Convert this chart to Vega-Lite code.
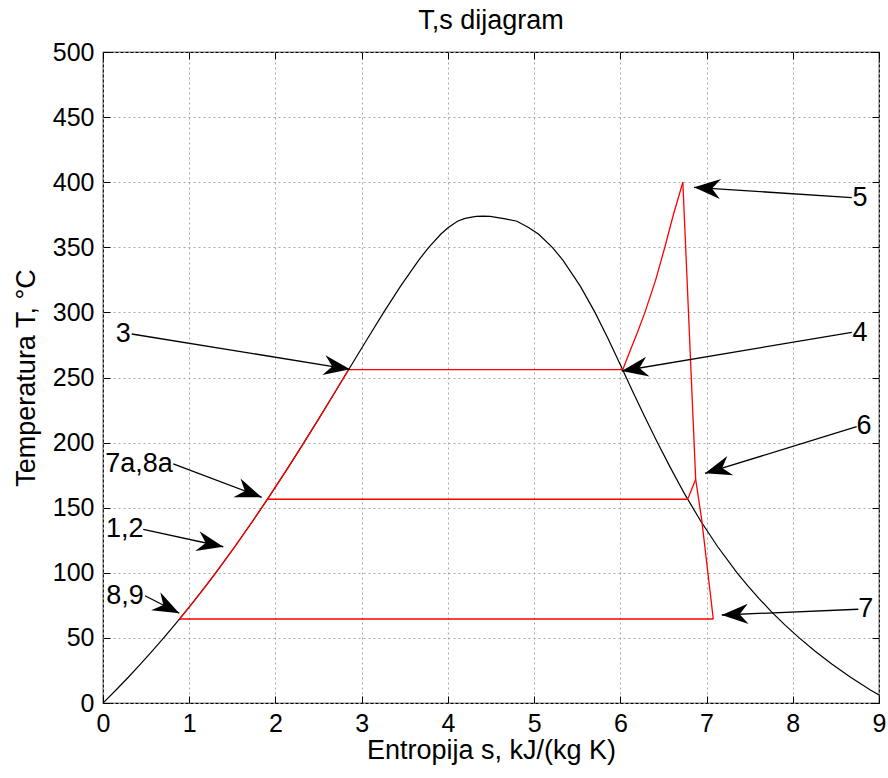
{
  "$schema": "https://vega.github.io/schema/vega-lite/v6.json",
  "width": 776,
  "height": 651,
  "autosize": {"type": "none"},
  "padding": {"left": 103, "top": 52, "right": 9, "bottom": 75},
  "background": "white",
  "config": {
    "font": "Liberation Sans",
    "view": {"stroke": "#000000", "strokeWidth": 1.2},
    "axis": {
      "domain": false,
      "labelColor": "#000000",
      "labelFont": "Liberation Sans",
      "labelFontSize": 25,
      "labelFlush": false,
      "labelOverlap": false,
      "titleFont": "Liberation Sans",
      "titleFontSize": 27,
      "titleFontWeight": "normal",
      "titleColor": "#000000",
      "tickColor": "#000000",
      "tickSize": -7,
      "tickWidth": 1,
      "gridColor": "#a8a8a8",
      "gridDash": [2, 3],
      "gridWidth": 1
    }
  },
  "title": {"text": "T,s dijagram", "fontSize": 27, "fontWeight": "normal", "font": "Liberation Sans", "color": "#000000", "offset": 5},
  "datasets": {
    "dome": [
      {"i": 0, "s": 0.0, "T": 0.0},
      {"i": 1, "s": 0.1511, "T": 10},
      {"i": 2, "s": 0.2965, "T": 20},
      {"i": 3, "s": 0.4368, "T": 30},
      {"i": 4, "s": 0.5724, "T": 40},
      {"i": 5, "s": 0.7038, "T": 50},
      {"i": 6, "s": 0.8313, "T": 60},
      {"i": 7, "s": 0.9551, "T": 70},
      {"i": 8, "s": 1.0756, "T": 80},
      {"i": 9, "s": 1.1929, "T": 90},
      {"i": 10, "s": 1.3072, "T": 100},
      {"i": 11, "s": 1.5279, "T": 120},
      {"i": 12, "s": 1.7392, "T": 140},
      {"i": 13, "s": 1.9426, "T": 160},
      {"i": 14, "s": 2.1392, "T": 180},
      {"i": 15, "s": 2.3305, "T": 200},
      {"i": 16, "s": 2.5177, "T": 220},
      {"i": 17, "s": 2.702, "T": 240},
      {"i": 18, "s": 2.8849, "T": 260},
      {"i": 19, "s": 3.0685, "T": 280},
      {"i": 20, "s": 3.2552, "T": 300},
      {"i": 21, "s": 3.4494, "T": 320},
      {"i": 22, "s": 3.6601, "T": 340},
      {"i": 23, "s": 3.7784, "T": 350},
      {"i": 24, "s": 3.9167, "T": 360},
      {"i": 25, "s": 4.0014, "T": 365},
      {"i": 26, "s": 4.1112, "T": 370},
      {"i": 27, "s": 4.19, "T": 372},
      {"i": 28, "s": 4.26, "T": 373},
      {"i": 29, "s": 4.33, "T": 373.7},
      {"i": 30, "s": 4.407, "T": 373.95},
      {"i": 31, "s": 4.49, "T": 373.7},
      {"i": 32, "s": 4.56, "T": 373},
      {"i": 33, "s": 4.65, "T": 372},
      {"i": 34, "s": 4.8012, "T": 370},
      {"i": 35, "s": 4.94, "T": 365},
      {"i": 36, "s": 5.0536, "T": 360},
      {"i": 37, "s": 5.2112, "T": 350},
      {"i": 38, "s": 5.3357, "T": 340},
      {"i": 39, "s": 5.5373, "T": 320},
      {"i": 40, "s": 5.7059, "T": 300},
      {"i": 41, "s": 5.8571, "T": 280},
      {"i": 42, "s": 5.9989, "T": 260},
      {"i": 43, "s": 6.1379, "T": 240},
      {"i": 44, "s": 6.2817, "T": 220},
      {"i": 45, "s": 6.4302, "T": 200},
      {"i": 46, "s": 6.5867, "T": 180},
      {"i": 47, "s": 6.7502, "T": 160},
      {"i": 48, "s": 6.9299, "T": 140},
      {"i": 49, "s": 7.1296, "T": 120},
      {"i": 50, "s": 7.3542, "T": 100},
      {"i": 51, "s": 7.4791, "T": 90},
      {"i": 52, "s": 7.6117, "T": 80},
      {"i": 53, "s": 7.754, "T": 70},
      {"i": 54, "s": 7.908, "T": 60},
      {"i": 55, "s": 8.0748, "T": 50},
      {"i": 56, "s": 8.2557, "T": 40},
      {"i": 57, "s": 8.452, "T": 30},
      {"i": 58, "s": 8.666, "T": 20},
      {"i": 59, "s": 8.8998, "T": 10},
      {"i": 60, "s": 9.0, "T": 6.2}
    ],
    "cycle": [
      {"seg": "liquid", "i": 0, "s": 0.888, "T": 64.5},
      {"seg": "liquid", "i": 1, "s": 0.9551, "T": 70},
      {"seg": "liquid", "i": 2, "s": 1.0756, "T": 80},
      {"seg": "liquid", "i": 3, "s": 1.1929, "T": 90},
      {"seg": "liquid", "i": 4, "s": 1.3072, "T": 100},
      {"seg": "liquid", "i": 5, "s": 1.5279, "T": 120},
      {"seg": "liquid", "i": 6, "s": 1.7392, "T": 140},
      {"seg": "liquid", "i": 7, "s": 1.9073, "T": 156.5},
      {"seg": "liquid", "i": 8, "s": 2.1392, "T": 180},
      {"seg": "liquid", "i": 9, "s": 2.3305, "T": 200},
      {"seg": "liquid", "i": 10, "s": 2.5177, "T": 220},
      {"seg": "liquid", "i": 11, "s": 2.702, "T": 240},
      {"seg": "liquid", "i": 12, "s": 2.848, "T": 256},
      {"seg": "evap", "i": 0, "s": 2.848, "T": 256},
      {"seg": "evap", "i": 1, "s": 6.028, "T": 256},
      {"seg": "superheat", "i": 0, "s": 6.028, "T": 256},
      {"seg": "superheat", "i": 1, "s": 6.11, "T": 270},
      {"seg": "superheat", "i": 2, "s": 6.2, "T": 285},
      {"seg": "superheat", "i": 3, "s": 6.285, "T": 300},
      {"seg": "superheat", "i": 4, "s": 6.41, "T": 325},
      {"seg": "superheat", "i": 5, "s": 6.516, "T": 350},
      {"seg": "superheat", "i": 6, "s": 6.615, "T": 375},
      {"seg": "superheat", "i": 7, "s": 6.725, "T": 400},
      {"seg": "turbine", "i": 0, "s": 6.725, "T": 400},
      {"seg": "turbine", "i": 1, "s": 6.874, "T": 171.8},
      {"seg": "turbine", "i": 2, "s": 6.944, "T": 140.6},
      {"seg": "turbine", "i": 3, "s": 7.078, "T": 64.5},
      {"seg": "bleed", "i": 0, "s": 6.781, "T": 156.5},
      {"seg": "bleed", "i": 1, "s": 6.874, "T": 171.8},
      {"seg": "heater", "i": 0, "s": 1.9073, "T": 156.5},
      {"seg": "heater", "i": 1, "s": 6.781, "T": 156.5},
      {"seg": "condenser", "i": 0, "s": 0.888, "T": 64.5},
      {"seg": "condenser", "i": 1, "s": 7.078, "T": 64.5}
    ],
    "arrows": [
      {"label": "5", "s0": 8.684, "T0": 388.1, "s1": 6.855, "T1": 396.1, "ls": 8.78, "lT": 387.6},
      {"label": "4", "s0": 8.684, "T0": 284.7, "s1": 6.016, "T1": 255.0, "ls": 8.78, "lT": 284.4},
      {"label": "6", "s0": 8.741, "T0": 212.2, "s1": 6.982, "T1": 176.4, "ls": 8.826, "lT": 212.7},
      {"label": "7", "s0": 8.76, "T0": 72.0, "s1": 7.176, "T1": 67.6, "ls": 8.846, "lT": 72.0},
      {"label": "3", "s0": 0.333, "T0": 283.4, "s1": 2.865, "T1": 256.3, "ls": 0.235, "lT": 283.4},
      {"label": "7a,8a", "s0": 0.815, "T0": 183.6, "s1": 1.841, "T1": 158.0, "ls": 0.418, "lT": 183.6},
      {"label": "1,2", "s0": 0.467, "T0": 133.4, "s1": 1.395, "T1": 120.0, "ls": 0.252, "lT": 133.4},
      {"label": "8,9", "s0": 0.487, "T0": 82.4, "s1": 0.885, "T1": 68.9, "ls": 0.255, "lT": 82.4}
    ]
  },
  "layer": [
    {
      "data": {"name": "dome"},
      "mark": {"type": "line", "color": "#000000", "strokeWidth": 1.2, "clip": true},
      "encoding": {
        "x": {"field": "s", "type": "quantitative", "scale": {"domain": [0, 9], "nice": false, "zero": false},
          "axis": {"orient": "bottom", "values": [0, 1, 2, 3, 4, 5, 6, 7, 8, 9], "title": "Entropija s, kJ/(kg K)", "labelPadding": 15, "titlePadding": 1, "grid": true}},
        "y": {"field": "T", "type": "quantitative", "scale": {"domain": [0, 500], "nice": false, "zero": false},
          "axis": {"orient": "left", "values": [0, 50, 100, 150, 200, 250, 300, 350, 400, 450, 500], "title": "Temperatura T, °C", "labelPadding": 16, "titlePadding": 12, "grid": true}},
        "order": {"field": "i", "type": "quantitative"}
      }
    },
    {
      "data": {"name": "cycle"},
      "mark": {"type": "line", "color": "#ff0000", "strokeWidth": 1.3},
      "encoding": {
        "x": {"field": "s", "type": "quantitative", "axis": {"orient": "top", "values": [0, 1, 2, 3, 4, 5, 6, 7, 8, 9], "labels": false, "title": null, "grid": false}},
        "y": {"field": "T", "type": "quantitative", "axis": {"orient": "right", "values": [0, 50, 100, 150, 200, 250, 300, 350, 400, 450, 500], "labels": false, "title": null, "grid": false}},
        "detail": {"field": "seg"},
        "order": {"field": "i", "type": "quantitative"}
      }
    },
    {
      "data": {"name": "arrows"},
      "mark": {"type": "rule", "color": "#000000", "strokeWidth": 1.3},
      "encoding": {
        "x": {"field": "s0", "type": "quantitative", "axis": null},
        "y": {"field": "T0", "type": "quantitative", "axis": null},
        "x2": {"field": "s1"},
        "y2": {"field": "T1"}
      }
    },
    {
      "data": {"name": "arrows"},
      "transform": [
        {"calculate": "atan2((datum.T0 - datum.T1) * 651 / 500, (datum.s1 - datum.s0) * 776 / 9) * 180 / PI", "as": "ang"}
      ],
      "mark": {"type": "point", "shape": "M0,0 L-1,-0.38 L-0.68,0 L-1,0.38 Z", "filled": true, "color": "#000000", "opacity": 1, "size": 2800, "strokeWidth": 0},
      "encoding": {
        "x": {"field": "s1", "type": "quantitative", "axis": null},
        "y": {"field": "T1", "type": "quantitative", "axis": null},
        "angle": {"field": "ang", "type": "quantitative", "scale": null}
      }
    },
    {
      "data": {"name": "arrows"},
      "mark": {"type": "text", "fontSize": 27, "font": "Liberation Sans", "color": "#000000", "align": "center", "baseline": "middle"},
      "encoding": {
        "x": {"field": "ls", "type": "quantitative", "axis": null},
        "y": {"field": "lT", "type": "quantitative", "axis": null},
        "text": {"field": "label"}
      }
    }
  ],
  "resolve": {"axis": {"x": "independent", "y": "independent"}}
}
